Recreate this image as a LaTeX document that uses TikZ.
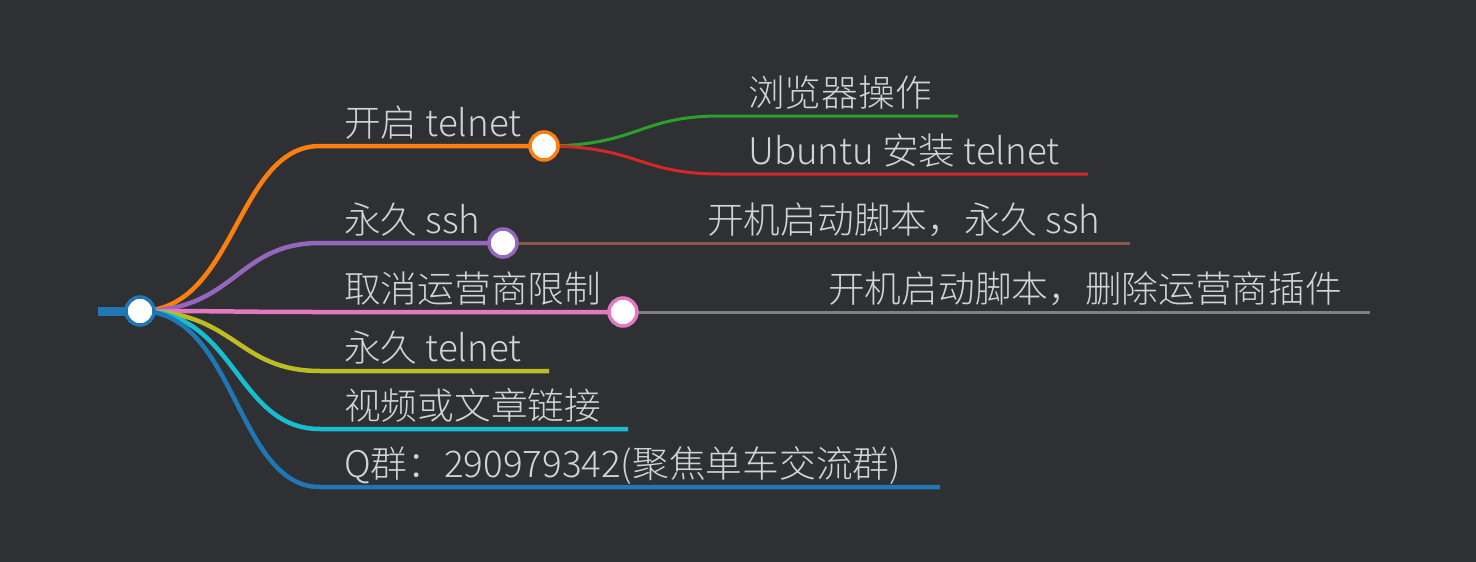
\documentclass[tikz,border=0pt]{standalone}
\usepackage{fontspec}
\setmainfont{Noto Sans CJK SC Light}

\definecolor{bgdark}{HTML}{2F3034}
\definecolor{txtgray}{HTML}{D2D3D5}
\definecolor{mmblue}{HTML}{1F77B4}
\definecolor{mmorange}{HTML}{FF7F0E}
\definecolor{mmgreen}{HTML}{2CA02C}
\definecolor{mmred}{HTML}{D62728}
\definecolor{mmpurple}{HTML}{9467BD}
\definecolor{mmbrown}{HTML}{8C564B}
\definecolor{mmpink}{HTML}{E377C2}
\definecolor{mmgray}{HTML}{7F7F7F}
\definecolor{mmolive}{HTML}{BCBD22}
\definecolor{mmcyan}{HTML}{17BECF}

\begin{document}
\begin{tikzpicture}[x=1pt, y=-1pt,
    every node/.style={font=\fontsize{36.7}{44}\selectfont},
    lbl/.style={anchor=base west, inner sep=0pt, text=txtgray},
    dot/.style={circle, draw=#1, line width=3.5pt, fill=white, minimum size=28pt, inner sep=0pt},
    lvlone/.style={line width=4.5pt},
    lvltwo/.style={line width=3pt}]
  \fill[bgdark] (0,0) rectangle (1476,562);

  % points of the map
  \coordinate (stub) at (98,311);
  \coordinate (root) at (140,311);
  \coordinate (k1) at (320,146); \coordinate (c1) at (544,146);
  \coordinate (k2) at (320,243); \coordinate (c2) at (503,243);
  \coordinate (k3) at (320,312); \coordinate (c3) at (623,312);
  \coordinate (k4) at (320,371); \coordinate (e4) at (549,371);
  \coordinate (k5) at (320,429); \coordinate (e5) at (628,429);
  \coordinate (k6) at (320,487); \coordinate (e6) at (940,487);
  \coordinate (k7) at (720,116); \coordinate (e7) at (958,116);
  \coordinate (k8) at (720,174); \coordinate (e8) at (1088,174);
  \coordinate (e9) at (1130,243);
  \coordinate (e10) at (1370,312);

  % second level
  \draw[lvltwo, mmgreen] (c1) .. controls +(95,0) and +(-82,0) .. (k7) -- (e7);
  \draw[lvltwo, mmred] (c1) .. controls +(95,0) and +(-82,0) .. (k8) -- (e8);
  \draw[lvltwo, mmbrown] (c2) -- (e9);
  \draw[lvltwo, mmgray] (c3) -- (e10);

  % first level
  \draw[lvlone, mmorange] (root) .. controls +(96,0) and +(-84,0) .. (k1) -- (c1);
  \draw[lvlone, mmpurple] (root) .. controls +(96,0) and +(-84,0) .. (k2) -- (c2);
  \draw[lvlone, mmpink] (root) .. controls +(96,0) and +(-84,0) .. (k3) -- (c3);
  \draw[lvlone, mmolive] (root) .. controls +(96,0) and +(-84,0) .. (k4) -- (e4);
  \draw[lvlone, mmcyan] (root) .. controls +(96,0) and +(-84,0) .. (k5) -- (e5);
  \draw[lvlone, mmblue] (root) .. controls +(96,0) and +(-84,0) .. (k6) -- (e6);
  \draw[mmblue, line width=9pt] (stub) -- (root);

  % folds
  \node[dot=mmblue] (rootdot) at (root) {};
  \node[dot=mmorange] (dot1) at (c1) {};
  \node[dot=mmpurple] (dot2) at (c2) {};
  \node[dot=mmpink] (dot3) at (c3) {};

  % labels
  \node[lbl] (t1) at (344,136) {开启 telnet};
  \node[lbl] (t2) at (344,233) {永久 ssh};
  \node[lbl] (t3) at (344,302) {取消运营商限制};
  \node[lbl] (t4) at (344,361) {永久 telnet};
  \node[lbl] (t5) at (344,419) {视频或文章链接};
  \node[lbl] (t6) at (344,477) {Q群：290979342(聚焦单车交流群)};
  \node[lbl] (t7) at (748,106) {浏览器操作};
  \node[lbl] (t8) at (748,164) {Ubuntu 安装 telnet};
  \node[lbl] (t9) at (707,233) {开机启动脚本，永久 ssh};
  \node[lbl] (t10) at (828,302) {开机启动脚本，删除运营商插件};
\end{tikzpicture}
\end{document}
